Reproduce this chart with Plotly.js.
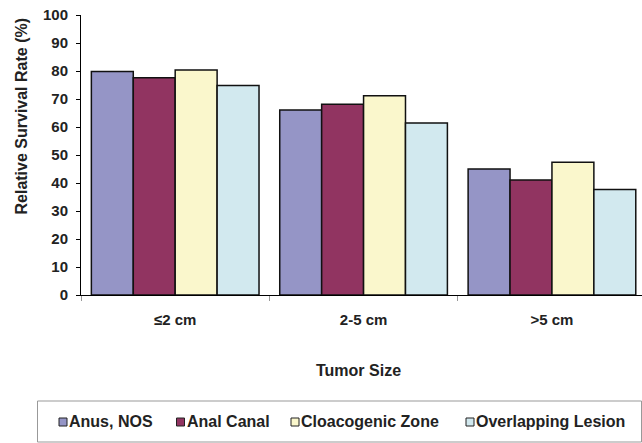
<!DOCTYPE html>
<html>
<head>
<meta charset="utf-8">
<script src="https://cdn.plot.ly/plotly-3.0.1.min.js"></script>
<style>html,body{margin:0;padding:0;background:#fff;}#chart{width:642px;height:443px;}</style>
</head>
<body>
<div id="chart"></div>
<script>
// ---- data ----
const categories = ['\u22642 cm', '2-5 cm', '>5 cm'];
const seriesNames = ['Anus, NOS', 'Anal Canal', 'Cloacogenic Zone', 'Overlapping Lesion'];
const anusNOS = [79.8, 66.1, 45.0];
const analCanal = [77.6, 68.1, 41.1];
const cloacogenicZone = [80.4, 71.2, 47.4];
const overlappingLesion = [74.8, 61.4, 37.7];
const yTickVals = [0, 10, 20, 30, 40, 50, 60, 70, 80, 90, 100];

const seriesValues = [anusNOS, analCanal, cloacogenicZone, overlappingLesion];
const colors = ['#9595C6', '#913461', '#FAF7CC', '#D2E9EF'];
const FONT = '"Liberation Sans", Arial, sans-serif';

const traces = seriesNames.map((n, i) => ({
  type: 'bar', name: n, x: categories, y: seriesValues[i],
  marker: {color: colors[i], line: {color: '#111', width: 1.5}},
  showlegend: false, hoverinfo: 'none'
}));

// plot-area geometry (px) to paper coordinates
const L = 81, T = 15, W = 561, H = 280;
const px = x => (x - L) / W;
const py = y => (T + H - y) / H;

const shapes = [{
  type: 'rect', xref: 'paper', yref: 'paper',
  x0: px(37.5), x1: px(641.5), y0: py(442), y1: py(401),
  line: {color: '#999', width: 1}, fillcolor: 'rgba(0,0,0,0)'
}];
const annotations = [
  {text: '<b>Relative Survival Rate (%)</b>', textangle: -90, xref: 'paper', yref: 'paper',
   x: px(21), y: py(116.5), xanchor: 'center', yanchor: 'middle', showarrow: false,
   font: {family: FONT, size: 16, color: '#222'}},
  {text: '<b>Tumor Size</b>', xref: 'paper', yref: 'paper',
   x: px(358), y: py(370.5), xanchor: 'center', yanchor: 'middle', showarrow: false,
   font: {family: FONT, size: 16, color: '#222'}}
];
// custom legend built from series names / colours
const legendSquareX = [59, 176.5, 291, 466];
seriesNames.forEach((n, i) => {
  const sx = legendSquareX[i];
  shapes.push({type: 'rect', xref: 'paper', yref: 'paper',
    x0: px(sx), x1: px(sx + 8), y0: py(426), y1: py(418),
    fillcolor: colors[i], line: {color: '#222', width: 1}});
  annotations.push({text: '<b>' + n + '</b>', xref: 'paper', yref: 'paper',
    x: px(sx + 8), y: py(421.5), xanchor: 'left', yanchor: 'middle', showarrow: false,
    font: {family: FONT, size: 16, color: '#222'}});
});

const layout = {
  width: 642, height: 443,
  margin: {l: L, r: 0, t: T, b: 443 - T - H, pad: 0},
  paper_bgcolor: '#fff', plot_bgcolor: '#fff',
  barmode: 'group', bargap: 0.11, bargroupgap: 0,
  font: {family: FONT, size: 15, color: '#222'},
  xaxis: {
    type: 'category', range: [-0.5, 2.478],
    showline: true, linecolor: '#000', linewidth: 1,
    ticks: 'outside', tickson: 'boundaries', ticklen: 5, tickcolor: '#999', tickwidth: 1,
    ticklabelstandoff: 11,
    tickfont: {family: FONT, size: 15, color: '#222', weight: 'bold'},
    showgrid: false, zeroline: false, fixedrange: true
  },
  yaxis: {
    range: [0, 100], tickvals: yTickVals, ticktext: yTickVals.map(String),
    showline: true, linecolor: '#000', linewidth: 1,
    ticks: 'outside', ticklen: 4, tickcolor: '#000', tickwidth: 1,
    ticklabelstandoff: 5,
    tickfont: {family: FONT, size: 15, color: '#222', weight: 'bold'},
    showgrid: false, zeroline: false, fixedrange: true
  },
  shapes: shapes,
  annotations: annotations,
  showlegend: false
};

Plotly.newPlot('chart', traces, layout, {displayModeBar: false, staticPlot: true});
</script>
</body>
</html>
